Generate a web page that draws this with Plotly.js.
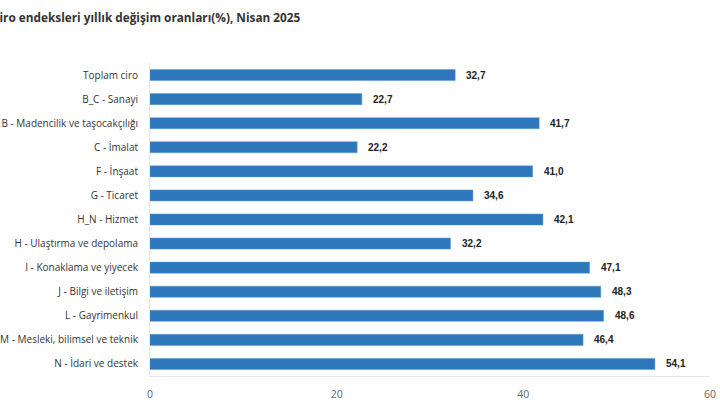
<!DOCTYPE html>
<html>
<head>
<meta charset="utf-8">
<script src="https://cdn.plot.ly/plotly-3.0.1.min.js"></script>
<style>html,body{margin:0;padding:0;background:#fff;}#chart{width:720px;height:417px;}</style>
</head>
<body>
<div id="chart"></div>
<script>
var categories = [
  "Toplam ciro",
  "B_C - Sanayi",
  "B - Madencilik ve taşocakçılığı",
  "C - İmalat",
  "F - İnşaat",
  "G - Ticaret",
  "H_N - Hizmet",
  "H - Ulaştırma ve depolama",
  "I - Konaklama ve yiyecek",
  "J - Bilgi ve iletişim",
  "L - Gayrimenkul",
  "M - Mesleki, bilimsel ve teknik",
  "N - İdari ve destek"
];
var values = [32.7, 22.7, 41.7, 22.2, 41.0, 34.6, 42.1, 32.2, 47.1, 48.3, 48.6, 46.4, 54.1];
var xTicks = [0, 20, 40, 60];
var titleText = "Ciro endeksleri yıllık değişim oranları(%), Nisan 2025";

var trace = {
  type: "bar",
  orientation: "h",
  y: categories,
  x: values,
  marker: {color: "#2e77bb", line: {color: "#5b9bd5", width: 0.5}},
  hoverinfo: "none"
};

var annotations = values.map(function (v, i) {
  return {
    x: v, y: categories[i], xref: "x", yref: "y",
    text: v.toFixed(1).replace(".", ","),
    showarrow: false, xanchor: "left", xshift: 9,
    font: {family: "Liberation Sans, Arial, sans-serif", size: 10, color: "#222", weight: "bold"}
  };
});

var L = 150, T = 63, B = 41, W = 720, H = 417;
var plotW = W - L - 10, plotH = H - T - B;
annotations.push({
  xref: "paper", yref: "paper",
  x: (-10 - L) / plotW, y: (H - B - 17) / plotH,
  xanchor: "left", yanchor: "middle",
  showarrow: false,
  text: "<b>" + titleText + "</b>",
  font: {family: "Open Sans, sans-serif", size: 11.8, color: "#333"}
});

var layout = {
  width: W,
  height: H,
  margin: {l: L, r: 10, t: T, b: B},
  paper_bgcolor: "#fff",
  plot_bgcolor: "#fff",
  showlegend: false,
  bargap: 0.54,
  annotations: annotations,
  xaxis: {
    range: [0, 60],
    tickvals: xTicks,
    showgrid: false,
    zeroline: false,
    showline: true,
    linecolor: "#e6e6e6",
    linewidth: 1,
    ticks: "outside",
    ticklen: 8,
    tickcolor: "rgba(0,0,0,0)",
    tickfont: {family: "Open Sans, sans-serif", size: 10.5, color: "#666"}
  },
  yaxis: {
    autorange: "reversed",
    showgrid: false,
    zeroline: false,
    showline: true,
    linecolor: "#e6e6e6",
    linewidth: 1,
    ticks: "outside",
    ticklen: 9,
    tickcolor: "rgba(0,0,0,0)",
    tickfont: {family: "Open Sans, sans-serif", size: 10, color: "#333"}
  }
};

Plotly.newPlot("chart", [trace], layout, {displayModeBar: false, staticPlot: true});
</script>
</body>
</html>
